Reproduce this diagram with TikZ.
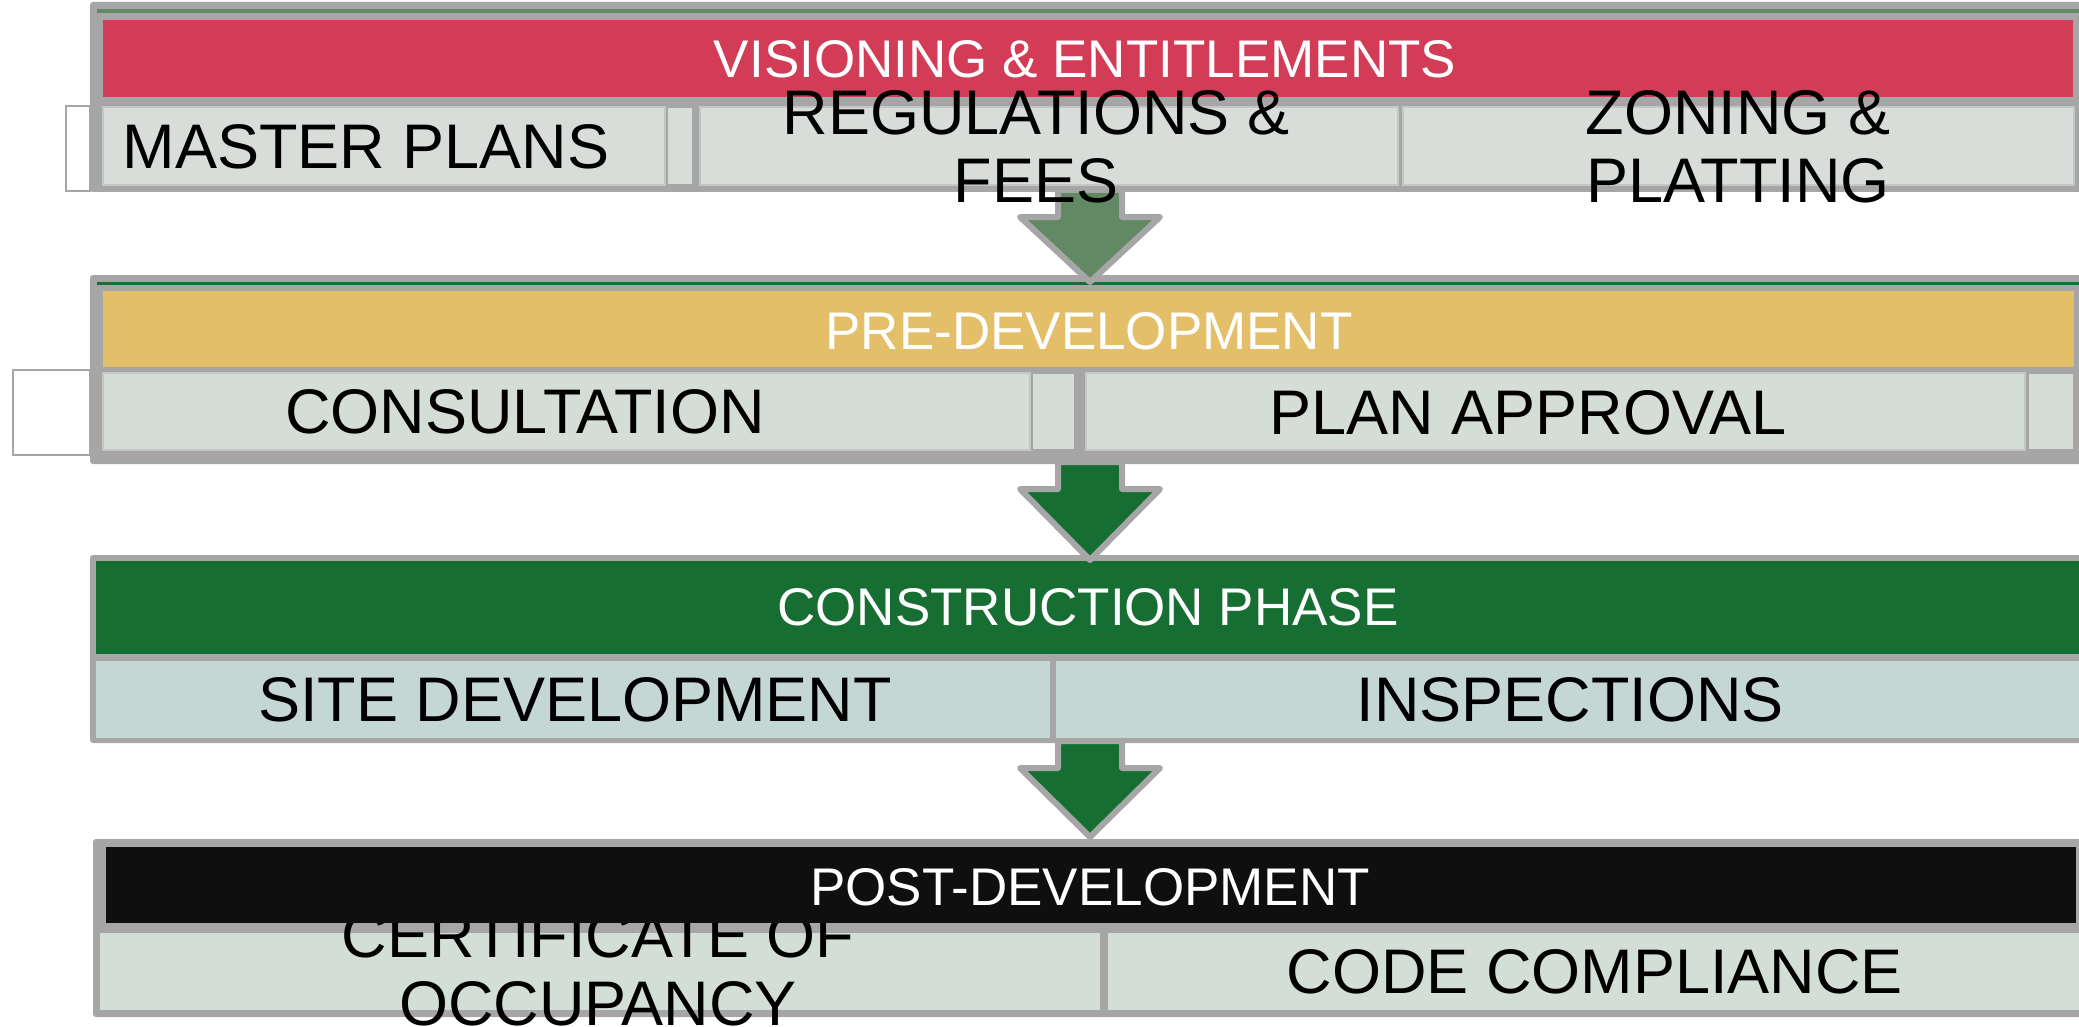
\documentclass[tikz,border=0pt]{standalone}
\usepackage{fontspec}
\setmainfont{Liberation Sans}
\usetikzlibrary{fit}
\definecolor{frameg}{HTML}{A6A6A6}
\definecolor{redh}{HTML}{D33C56}
\definecolor{yelh}{HTML}{E4BF6A}
\definecolor{greenh}{HTML}{176E32}
\definecolor{mutedg}{HTML}{628864}
\definecolor{blackh}{HTML}{0F0F0F}
\definecolor{subA}{HTML}{D9DDD9}
\definecolor{subB}{HTML}{D4DDD6}
\definecolor{subC}{HTML}{C4D7D4}
\definecolor{subD}{HTML}{D3DED6}
\definecolor{subline}{HTML}{C4C6C4}
\tikzset{
  blk/.style={inner sep=0pt, outer sep=0pt, draw=none},
  framebox/.style={blk, fill=frameg, rounded corners=3pt},
  hdrbox/.style={blk},
  subbox/.style={blk, draw=subline, line width=1.5pt},
  leftbox/.style={blk, fill=white, draw=frameg, line width=1.5pt},
  hdrtext/.style={text=white, font=\fontsize{53}{60}\selectfont, anchor=base, inner sep=0pt},
  subtext/.style={text=black, font=\fontsize{63}{68}\selectfont, anchor=base, inner sep=0pt, align=center},
  blockarrow/.style={draw=frameg, line width=6pt, line join=round},
}
\begin{document}
\begin{tikzpicture}[x=1pt,y=-1pt]
\useasboundingbox (0,0) rectangle (2079,1027);
\fill[white] (0,0) rectangle (2079,1027);

% ---------- Box 1 : Visioning & Entitlements ----------
\node[framebox, fit={(90,2) (2095,192)}] (f1) {};
\node[blk, fill=mutedg, fit={(97,9) (2079,13)}] (g1) {};
\node[hdrbox, fill=redh, fit={(103,20) (2073,97)}] (h1) {};
\node[leftbox, fit={(66,106) (90,191)}] (lb1) {};
\node[subbox, fill=subA, fit={(103,107) (665,185)}] (s1a) {};
\node[subbox, fill=subA, draw=frameg, fit={(667,107) (693,185)}] (s1b) {};
\node[subbox, fill=subA, fit={(700,107) (1398,185)}] (s1c) {};
\node[subbox, fill=subA, fit={(1403,107) (2074,185)}] (s1d) {};

% ---------- Box 2 : Pre-development ----------
\node[framebox, fit={(90,275) (2095,464)}] (f2) {};
\node[blk, fill=greenh, fit={(97,282) (2079,285)}] (g2) {};
\node[hdrbox, fill=yelh, fit={(103,291) (2074,367)}] (h2) {};
\node[leftbox, fit={(13,370) (90,455)}] (lb2) {};
\node[subbox, fill=subB, fit={(103,373) (1030,450)}] (s2a) {};
\node[subbox, fill=subB, draw=frameg, fit={(1032,373) (1075,450)}] (s2b) {};
\node[subbox, fill=subB, fit={(1086,373) (2025,450)}] (s2c) {};
\node[subbox, fill=subB, draw=frameg, fit={(2028,373) (2074,450)}] (s2d) {};

% ---------- Box 3 : Construction phase ----------
\node[framebox, fit={(90,555) (2095,743)}] (f3) {};
\node[hdrbox, fill=greenh, fit={(96,561) (2095,654)}] (h3) {};
\node[blk, fill=subC, fit={(96,661) (1050,738)}] (s3a) {};
\node[blk, fill=subC, fit={(1056,661) (2095,738)}] (s3b) {};

% ---------- Box 4 : Post-development ----------
\node[framebox, fit={(93,839) (2095,1017)}] (f4) {};
\node[blk, fill=subD, fit={(100,933) (1100,1010)}] (s4a) {};
\node[blk, fill=subD, fit={(1108,933) (2095,1010)}] (s4b) {};
\node[subtext] (t4a) at (598,1025) {CERTIFICATE OF\\OCCUPANCY};
\node[hdrbox, fill=blackh, fit={(106,847) (2076,923)}] (h4) {};

% ---------- Arrows ----------
\coordinate (a1s) at (1090,190);
\coordinate (a1t) at (1090,282);
\coordinate (a2s) at (1090,462);
\coordinate (a2t) at (1090,560);
\coordinate (a3s) at (1090,741);
\coordinate (a3t) at (1090,837);
\draw[blockarrow, fill=mutedg] (a1s) ++(-32,0) -- ++(0,27) -- ++(-38,0) -- (a1t) -- ++(70,-65) -- ++(-38,0) -- ++(0,-27) -- cycle;
\draw[blockarrow, fill=greenh] (a2s) ++(-32,0) -- ++(0,27) -- ++(-38,0) -- (a2t) -- ++(70,-71) -- ++(-38,0) -- ++(0,-27) -- cycle;
\draw[blockarrow, fill=greenh] (a3s) ++(-32,0) -- ++(0,27) -- ++(-38,0) -- (a3t) -- ++(70,-69) -- ++(-38,0) -- ++(0,-27) -- cycle;

% ---------- Texts ----------
\node[hdrtext] (t1) at (1085,78) {VISIONING \& ENTITLEMENTS};
\node[subtext] (t1a) at (366,169) {MASTER PLANS};
\node[subtext] (t1c) at (1036,203) {REGULATIONS \&\\FEES};
\node[subtext] (t1d) at (1738,203) {ZONING \&\\PLATTING};

\node[hdrtext] (t2) at (1089,349) {PRE-DEVELOPMENT};
\node[subtext] (t2a) at (525,433) {CONSULTATION};
\node[subtext] (t2c) at (1528,434) {PLAN APPROVAL};

\node[hdrtext] (t3) at (1088,625) {CONSTRUCTION PHASE};
\node[subtext] (t3a) at (575,721) {SITE DEVELOPMENT};
\node[subtext] (t3b) at (1570,721) {INSPECTIONS};

\node[hdrtext] (t4) at (1090,905) {POST-DEVELOPMENT};
\node[subtext] (t4b) at (1595,993) {CODE COMPLIANCE};
\end{tikzpicture}
\end{document}
